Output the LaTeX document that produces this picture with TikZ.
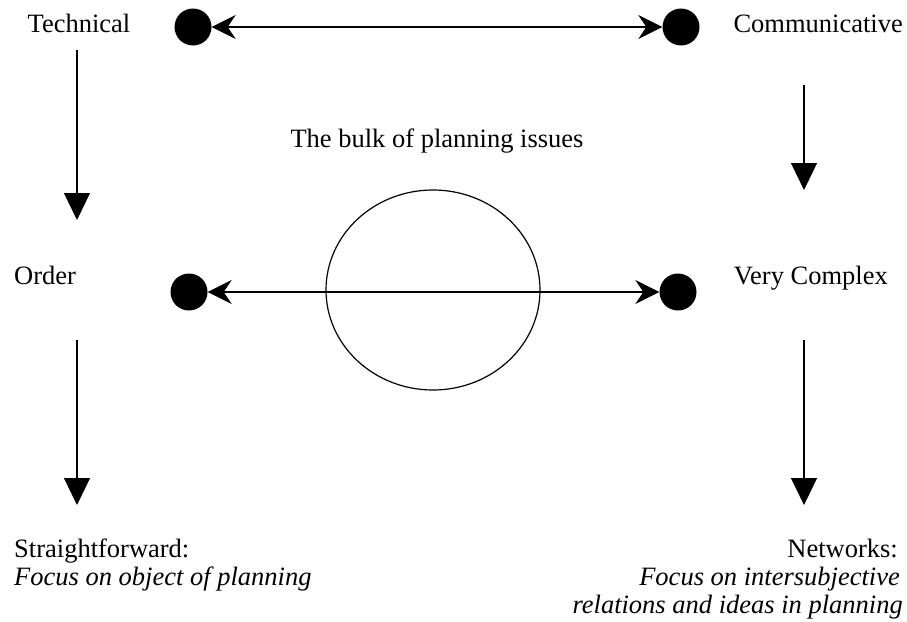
\documentclass[tikz,border=0pt]{standalone}
\usepackage{fontspec}
\setmainfont{Liberation Serif}
\usetikzlibrary{arrows.meta, shapes.geometric}
\tikzset{>={Stealth[length=24pt,width=24pt,inset=8pt]}}

\begin{document}
\begin{tikzpicture}[x=1pt,y=-1pt,
	lbl/.style={inner sep=0pt, font=\fontsize{26.5}{28}\selectfont},
	dot/.style={circle, fill=black, minimum size=37pt, inner sep=0pt},
	down/.style={line width=1.2pt, -{Triangle[width=26pt,length=27pt]}}]
	\useasboundingbox (0,0) rectangle (907,621);
	% the two poles and the row below them
	\node[lbl, anchor=base] (tech) at (79,32) {Technical};
	\node[lbl, anchor=base east] (comm) at (903,32) {Communicative};
	\node[lbl, anchor=base] (bulk) at (437,147) {The bulk of planning issues};
	\node[lbl, anchor=base west] (order) at (14,284) {Order};
	\node[lbl, anchor=base east] (cplx) at (888,284) {Very Complex};
	\foreach \n/\x/\y in {d1/193/27, d2/681/27, d3/189/292, d4/678/292}
		\node[dot] (\n) at (\x,\y) {};
	\node[draw, ellipse, line width=1.2pt, minimum width=214pt,
		minimum height=200pt, inner sep=0pt] (bulkc) at (433,290) {};
	\draw[line width=1.2pt,<->] (d1) -- (d2);
	\draw[line width=1.2pt,<->] (d3) -- (d4);
	% arrows down the sides
	\foreach \a/\x/\ya/\yb in {l1/77/50/220, l2/77/340/505, r1/804/85/190, r2/804/340/505}
	   {\coordinate (\a-s) at (\x,\ya);
		\coordinate (\a-e) at (\x,\yb);
		\draw[down] (\a-s) -- (\a-e);}
	% what each end comes to
	\node[lbl, anchor=base west] (str1) at (14,557) {Straightforward:};
	\node[lbl, anchor=base west] (str2) at (14,585) {\itshape Focus on object of planning};
	\node[lbl, anchor=base east] (net1) at (898,557) {Networks:};
	\node[lbl, anchor=base east] (net2) at (900,585) {\itshape Focus on intersubjective};
	\node[lbl, anchor=base east] (net3) at (903,613) {\itshape relations and ideas in planning};
\end{tikzpicture}
\end{document}
